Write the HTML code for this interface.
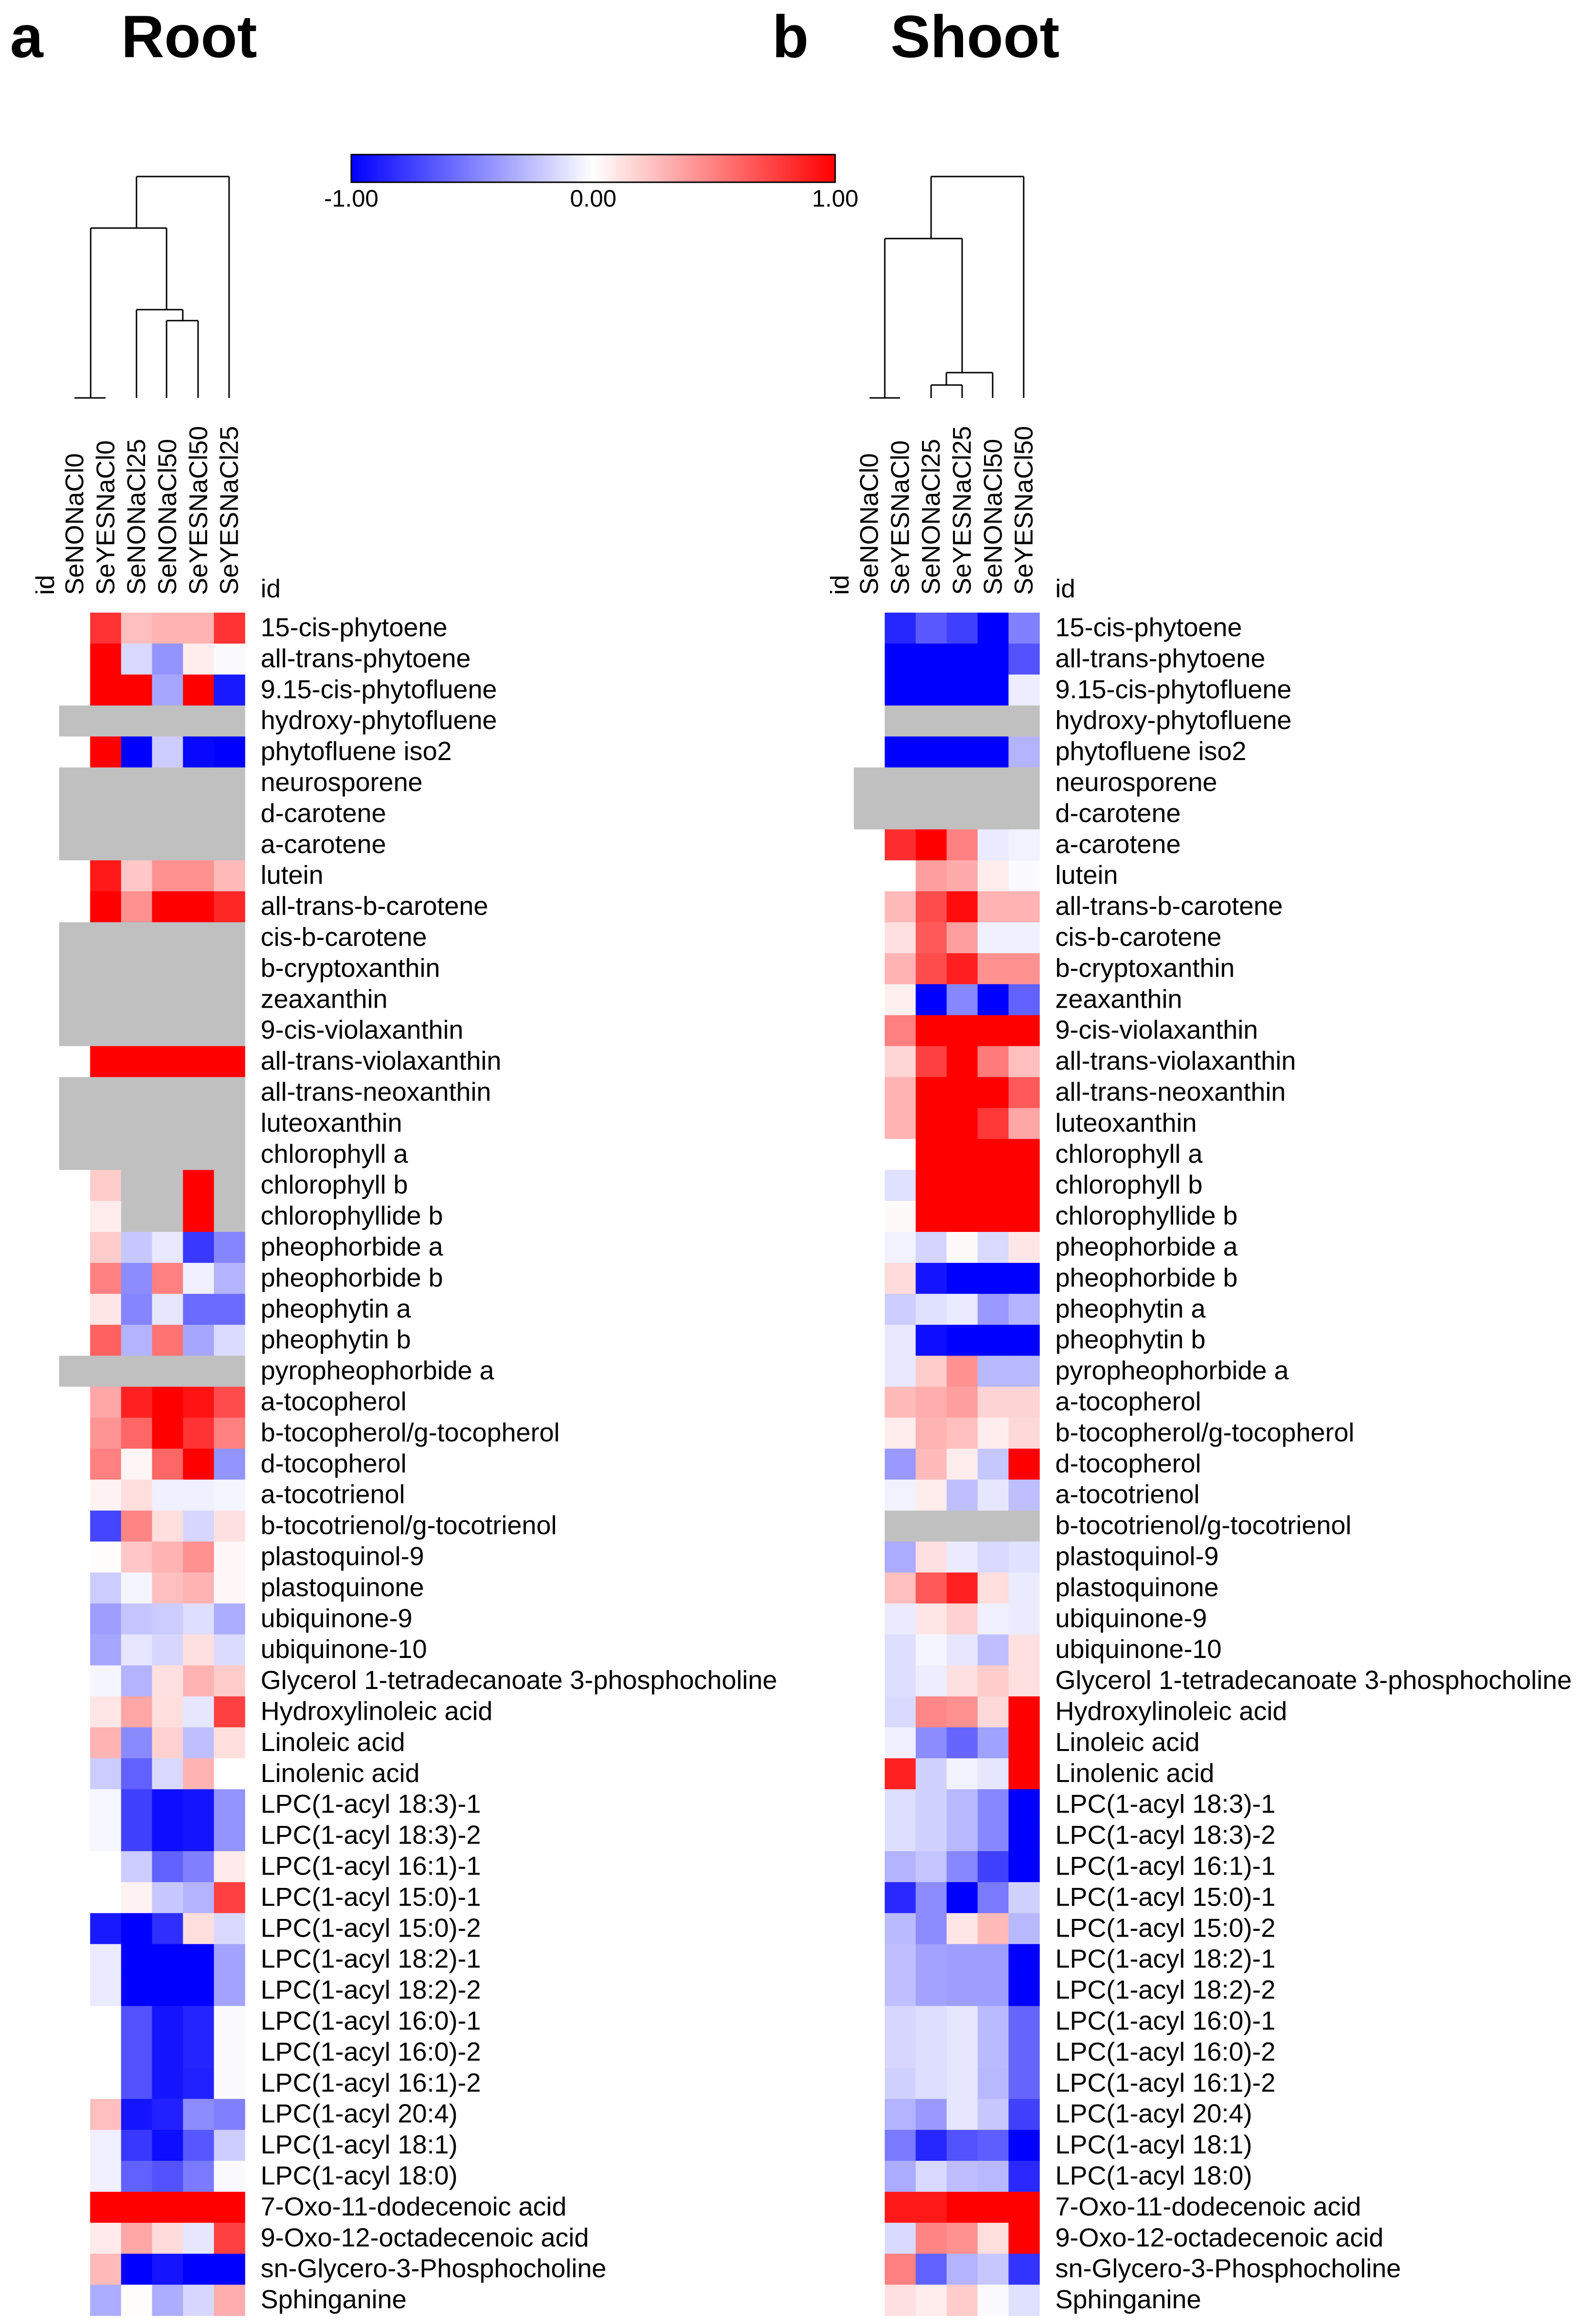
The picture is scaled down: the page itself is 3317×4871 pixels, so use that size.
<!DOCTYPE html>
<html><head><meta charset="utf-8"><style>
html,body{margin:0;padding:0;background:#fff}
svg{display:block}
text{font-family:"Liberation Sans",sans-serif;fill:#000}
</style></head><body>
<svg id="chart" width="3317" height="4871" viewBox="0 0 3317 4871" xmlns="http://www.w3.org/2000/svg">
<defs><linearGradient id="cb" x1="0" x2="1" y1="0" y2="0"><stop offset="0" stop-color="#0000ff"/><stop offset="0.5" stop-color="#ffffff"/><stop offset="1" stop-color="#ff0000"/></linearGradient></defs>
<text x="21" y="120" font-size="125" font-weight="bold">a</text>
<text x="254" y="120" font-size="125" font-weight="bold">Root</text>
<text x="1618" y="120" font-size="125" font-weight="bold">b</text>
<text x="1866" y="120" font-size="125" font-weight="bold">Shoot</text>
<g>
<rect x="736" y="324" width="1014" height="58" fill="url(#cb)" stroke="#000" stroke-width="3"/>
<text x="736" y="433" font-size="50" text-anchor="middle">-1.00</text>
<text x="1243" y="433" font-size="50" text-anchor="middle">0.00</text>
<text x="1750" y="433" font-size="50" text-anchor="middle">1.00</text>
</g>
<g id="layer"></g>
</svg>
<script>
const rowNames=["15-cis-phytoene","all-trans-phytoene","9.15-cis-phytofluene","hydroxy-phytofluene","phytofluene iso2","neurosporene","d-carotene","a-carotene","lutein","all-trans-b-carotene","cis-b-carotene","b-cryptoxanthin","zeaxanthin","9-cis-violaxanthin","all-trans-violaxanthin","all-trans-neoxanthin","luteoxanthin","chlorophyll a","chlorophyll b","chlorophyllide b","pheophorbide a","pheophorbide b","pheophytin a","pheophytin b","pyropheophorbide a","a-tocopherol","b-tocopherol/g-tocopherol","d-tocopherol","a-tocotrienol","b-tocotrienol/g-tocotrienol","plastoquinol-9","plastoquinone","ubiquinone-9","ubiquinone-10","Glycerol 1-tetradecanoate 3-phosphocholine","Hydroxylinoleic acid","Linoleic acid","Linolenic acid","LPC(1-acyl 18:3)-1","LPC(1-acyl 18:3)-2","LPC(1-acyl 16:1)-1","LPC(1-acyl 15:0)-1","LPC(1-acyl 15:0)-2","LPC(1-acyl 18:2)-1","LPC(1-acyl 18:2)-2","LPC(1-acyl 16:0)-1","LPC(1-acyl 16:0)-2","LPC(1-acyl 16:1)-2","LPC(1-acyl 20:4)","LPC(1-acyl 18:1)","LPC(1-acyl 18:0)","7-Oxo-11-dodecenoic acid","9-Oxo-12-octadecenoic acid","sn-Glycero-3-Phosphocholine","Sphinganine"];
const rootCols=["SeNONaCl0","SeYESNaCl0","SeNONaCl25","SeNONaCl50","SeYESNaCl50","SeYESNaCl25"];
const shootCols=["SeNONaCl0","SeYESNaCl0","SeNONaCl25","SeYESNaCl25","SeNONaCl50","SeYESNaCl50"];
const N=null;
const rootVals=[
[0,0.8,0.25,0.3,0.3,0.8],[0,1,-0.15,-0.42,0.07,-0.02],[0,1,1,-0.35,1,-0.9],[N,N,N,N,N,N],[0,1,-1,-0.2,-0.97,-1],
[N,N,N,N,N,N],[N,N,N,N,N,N],[N,N,N,N,N,N],[0,0.9,0.22,0.43,0.43,0.27],[0,1,0.43,1,1,0.85],
[N,N,N,N,N,N],[N,N,N,N,N,N],[N,N,N,N,N,N],[N,N,N,N,N,N],[0,1,1,1,1,1],
[N,N,N,N,N,N],[N,N,N,N,N,N],[N,N,N,N,N,N],[0,0.2,N,N,1,N],[0,0.07,N,N,1,N],
[0,0.2,-0.22,-0.09,-0.78,-0.48],[0,0.5,-0.45,0.5,-0.06,-0.3],[0,0.1,-0.48,-0.1,-0.58,-0.58],[0,0.62,-0.3,0.55,-0.35,-0.14],[N,N,N,N,N,N],
[0,0.35,0.87,1,0.93,0.7],[0,0.42,0.6,1,0.8,0.5],[0,0.5,0.04,0.6,1,-0.42],[0,0.05,0.13,-0.06,-0.06,-0.04],[0,-0.73,0.48,0.13,-0.16,0.12],
[0,0.01,0.22,0.3,0.43,0.03],[0,-0.2,-0.04,0.25,0.3,0.03],[0,-0.38,-0.23,-0.2,-0.13,-0.32],[0,-0.35,-0.1,-0.16,0.12,-0.14],[0,-0.04,-0.3,0.12,0.3,0.2],
[0,0.1,0.35,0.13,-0.1,0.75],[0,0.3,-0.46,0.18,-0.25,0.13],[0,-0.2,-0.62,-0.15,0.3,0],[0,-0.03,-0.75,-0.95,-0.92,-0.42],[0,-0.03,-0.75,-0.95,-0.92,-0.42],
[0,0,-0.2,-0.62,-0.5,0.08],[0,0,0.05,-0.22,-0.3,0.75],[0,-0.9,-1,-0.82,0.13,-0.15],[0,-0.08,-1,-1,-1,-0.36],[0,-0.08,-1,-1,-1,-0.36],
[0,0,-0.68,-0.92,-0.86,-0.02],[0,0,-0.68,-0.92,-0.86,-0.02],[0,0,-0.68,-0.92,-0.87,-0.02],[0,0.25,-0.92,-0.87,-0.45,-0.5],[0,-0.06,-0.78,-0.95,-0.66,-0.2],
[0,-0.06,-0.62,-0.68,-0.52,-0.02],[0,1,1,1,1,1],[0,0.08,0.35,0.14,-0.1,0.75],[0,0.27,-1,-0.92,-1,-1],[0,-0.32,0.01,-0.32,-0.16,0.32]];
const shootVals=[
[0,-0.85,-0.65,-0.75,-1,-0.5],[0,-1,-1,-1,-1,-0.68],[0,-1,-1,-1,-1,-0.07],[0,N,N,N,N,N],[0,-1,-1,-1,-1,-0.3],
[N,N,N,N,N,N],[N,N,N,N,N,N],[0,0.82,1,0.5,-0.08,-0.05],[0,0,0.38,0.33,0.07,-0.02],[0,0.27,0.7,0.95,0.3,0.3],
[0,0.12,0.65,0.38,-0.06,-0.06],[0,0.3,0.7,0.88,0.43,0.43],[0,0.06,-1,-0.47,-1,-0.62],[0,0.5,1,1,1,1],[0,0.16,0.75,1,0.52,0.25],
[0,0.3,1,1,1,0.65],[0,0.3,1,1,0.78,0.35],[0,0,1,1,1,1],[0,-0.12,1,1,1,1],[0,0.02,1,1,1,1],
[0,-0.05,-0.17,0.02,-0.15,0.1],[0,0.14,-0.92,-1,-1,-1],[0,-0.2,-0.12,-0.08,-0.4,-0.3],[0,-0.09,-0.95,-1,-1,-1],[0,-0.09,0.2,0.43,-0.28,-0.28],
[0,0.27,0.32,0.38,0.17,0.17],[0,0.07,0.3,0.25,0.07,0.15],[0,-0.4,0.27,0.07,-0.22,1],[0,-0.05,0.07,-0.25,-0.1,-0.25],[0,N,N,N,N,N],
[0,-0.33,0.12,-0.08,-0.15,-0.12],[0,0.25,0.65,0.87,0.13,-0.08],[0,-0.08,0.1,0.18,-0.06,-0.08],[0,-0.13,-0.04,-0.1,-0.25,0.12],[0,-0.13,-0.07,0.12,0.2,0.12],
[0,-0.15,0.47,0.43,0.15,1],[0,-0.06,-0.45,-0.6,-0.37,1],[0,0.87,-0.18,-0.05,-0.1,1],[0,-0.13,-0.18,-0.28,-0.47,-1],[0,-0.13,-0.18,-0.28,-0.47,-1],
[0,-0.3,-0.23,-0.47,-0.75,-1],[0,-0.84,-0.45,-1,-0.52,-0.18],[0,-0.27,-0.45,0.1,0.27,-0.28],[0,-0.25,-0.36,-0.38,-0.38,-1],[0,-0.25,-0.36,-0.38,-0.38,-1],
[0,-0.16,-0.13,-0.1,-0.27,-0.6],[0,-0.16,-0.13,-0.1,-0.27,-0.6],[0,-0.18,-0.13,-0.1,-0.28,-0.6],[0,-0.3,-0.4,-0.1,-0.22,-0.75],[0,-0.52,-0.85,-0.68,-0.63,-1],
[0,-0.33,-0.15,-0.26,-0.28,-0.84],[0,0.9,0.9,1,1,1],[0,-0.15,0.48,0.43,0.13,1],[0,0.5,-0.62,-0.3,-0.22,-0.8],[0,0.12,0.07,0.2,-0.02,-0.12]];

const NS="http://www.w3.org/2000/svg";
const layer=document.getElementById('layer');
const TOP=1284, RH=64.9, CW=64.85;
function color(v){
  if(v===null) return '#c0c0c0';
  if(v>=0){const c=Math.round(255*(1-Math.min(v,1)));return `rgb(255,${c},${c})`;}
  const c=Math.round(255*(1+Math.max(v,-1)));return `rgb(${c},${c},255)`;
}
function mk(tag,attrs,parent){const e=document.createElementNS(NS,tag);for(const k in attrs)e.setAttribute(k,attrs[k]);(parent||layer).appendChild(e);return e;}
function yAt(i){return TOP+i*RH;}
function drawPanel(name,x0,cols,vals,dendro){
  const g=mk('g',{});
  
  
  const xAt=j=>x0+j*CW;
  vals.forEach((row,i)=>{
    row.forEach((v,j)=>{
      const r=mk('rect',{x:xAt(j),y:yAt(i),width:CW+0.6,height:RH+0.6,fill:color(v)},g);
      
      
    });
    const t=mk('text',{x:xAt(6)+33,y:yAt(i)+RH/2+17,'font-size':55},g);
    
    
    t.textContent=rowNames[i];
  });
  cols.forEach((c,j)=>{
    const cx=xAt(j)+CW/2+18;
    const t=mk('text',{x:cx,y:1247,'font-size':54,transform:`rotate(-90 ${cx} 1247)`},g);
    
    
    t.textContent=c;
  });
  const idx=x0-29+18;
  const t1=mk('text',{x:idx,y:1247,'font-size':54,transform:`rotate(-90 ${idx} 1247)`},g);
  
  
  t1.textContent='id';
  const t2=mk('text',{x:xAt(6)+33,y:1252,'font-size':54},g);
  
  
  t2.textContent='id';
  const d=mk('path',{d:dendro,fill:'none',stroke:'#000','stroke-width':3},g);
  
  
}
drawPanel('root',124,rootCols,rootVals,
 "M156 834H221M190 834V478 M286 834V649 M349 834V672 M415 834V672 M349 672H415 M383 672V649 M286 649H383 M349 649V478 M190 478H349 M286 478V370 M480 834V370 M286 370H480");
drawPanel('shoot',1789,shootCols,shootVals,
 "M1822 834H1886M1854 834V500 M1951 834V807 M2016 834V807 M1951 807H2016 M1983 807V781 M2080 834V781 M1983 781H2080 M2016 781V500 M1854 500H2016 M1951 500V370 M2145 834V370 M1951 370H2145");
</script>
</body></html>
